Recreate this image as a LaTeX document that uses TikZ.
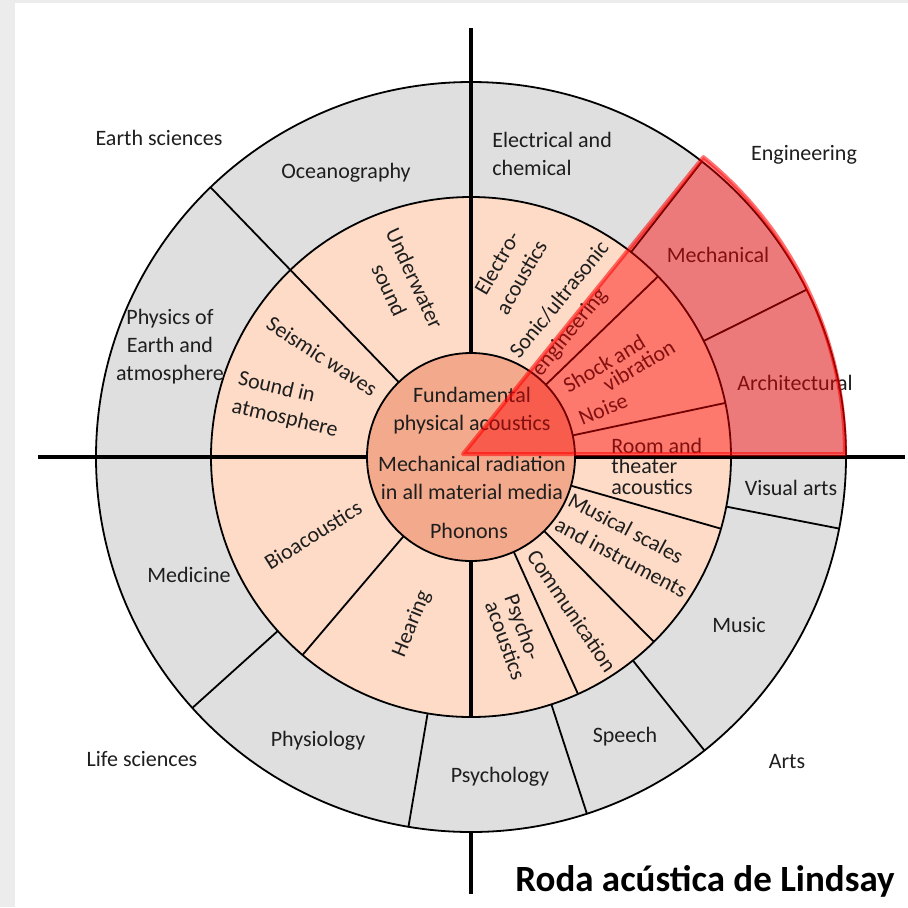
\documentclass[tikz,border=0pt]{standalone}
\usepackage{fontspec}
\setmainfont{Carlito}
\definecolor{bgframe}{HTML}{ECECEC}
\definecolor{ringgray}{HTML}{DFDFDF}
\definecolor{ringpeach}{HTML}{FDDBC7}
\definecolor{innercol}{HTML}{F3A98B}
\definecolor{txt}{HTML}{1E1E1E}
\begin{document}
\begin{tikzpicture}[x=0.5pt,y=0.5pt,
  lbl/.style={font=\fontsize{11}{14}\selectfont, text=txt, inner sep=0pt, align=center},
  divider/.style={draw=black, line width=0.9pt},
  axisline/.style={draw=black, line width=2pt},
  overlay sector/.style={fill=red, fill opacity=0.45, draw=red, draw opacity=0.55, line width=2pt, line join=round}
]
\useasboundingbox (-471,-450) rectangle (437,457);
\fill[bgframe] (-471,-450) rectangle (437,457);
\fill[white] (-456,-450) rectangle (437,454);

% rings
\fill[ringgray] (0,0) circle (375);
\draw[divider] (0,0) circle (375);
\fill[ringpeach] (0,0) circle (260);
\draw[divider] (0,0) circle (260);

% outer ring dividers
\foreach \a in {222,260.4,288,308.5,349,26.5,52}
  \draw[divider] (\a:260) -- (\a:375);
\draw[divider] (134:104) -- (134:375);
% middle ring dividers
\foreach \a in {229.6,294.3,314.7,344,12,44}
  \draw[divider] (\a:104) -- (\a:260);

% inner disk
\fill[innercol] (0,0) circle (104);
\draw[divider] (0,0) circle (104);

% axes
\draw[axisline] (-433,0) -- (-104,0);
\draw[axisline] (104,0) -- (434,0);
\draw[axisline] (0,429) -- (0,104);
\draw[axisline] (0,-104) -- (0,-260);
\draw[axisline] (0,-375) -- (0,-437);

% outside labels
\node[lbl] (earth) at (-312,319) {Earth sciences};
\node[lbl] (engin) at (333,302) {Engineering};
\node[lbl] (life) at (-329,-302) {Life sciences};
\node[lbl] (arts) at (316,-305) {Arts};

% outer ring labels
\node[lbl] (ocean) at (-125,284) {Oceanography};
\node[lbl, align=left, anchor=west] (elec) at (21,303) {Electrical and\\chemical};
\node[lbl] (physearth) at (-301,110) {Physics of\\Earth and\\atmosphere};
\node[lbl] (medicine) at (-282,-118) {Medicine};
\node[lbl] (physiol) at (-153,-284) {Physiology};
\node[lbl] (psychol) at (29,-320) {Psychology};
\node[lbl] (speech) at (154,-280) {Speech};
\node[lbl] (music) at (268,-168) {Music};
\node[lbl] (visual) at (320,-31) {Visual arts};
\node[lbl] (mech) at (247,202) {Mechanical};
\node[lbl] (archi) at (324,74) {Architectural};

% middle ring labels
\node[lbl, rotate=-65] (underwater) at (-69,173) {Underwater\\sound};
\node[lbl, rotate=60] (electroac) at (38,187) {Electro-\\acoustics};
\node[lbl, rotate=51, align=left] (sonic) at (100,148) {Sonic/ultrasonic\\engineering};
\node[lbl, rotate=31, align=left] (shock) at (148,91) {Shock and\\[-4.5pt]\hspace*{17.5pt}vibration};
\node[lbl, rotate=22] (noise) at (132,48) {Noise};
\node[lbl, align=left, anchor=west, font=\fontsize{11}{10.25}\selectfont] (room) at (140,-9) {Room and\\theater\\acoustics};
\node[lbl, rotate=-28, align=left] (musical) at (157,-88) {Musical scales\\and instruments};
\node[lbl, rotate=-56] (commun) at (101,-154) {Communication};
\node[lbl, rotate=-70, align=left, font=\fontsize{11}{9}\selectfont] (psychoac) at (44.5,-180) {Psycho-\\acoustics};
\node[lbl, rotate=68] (hearing) at (-59,-167) {Hearing};
\node[lbl, rotate=32] (bioac) at (-158,-78) {Bioacoustics};
\node[lbl, rotate=-33] (seismic) at (-149,101) {Seismic waves};
\node[lbl, rotate=-13, align=left] (soundatm) at (-183,52) {Sound in\\atmosphere};

% inner circle labels
\node[lbl] (fundam) at (1,46) {Fundamental\\physical acoustics};
\node[lbl] (mechrad) at (1,-21) {Mechanical radiation\\in all material media};
\node[lbl] (phonons) at (-2,-74) {Phonons};

% highlighted engineering sector
\path[overlay sector] (-8,3) -- ++(0:382) arc[start angle=0, end angle=51, radius=382] -- cycle;

% title
\node[anchor=base west, inner sep=0pt, font=\fontsize{18.5}{22}\selectfont\bfseries, text=black] (title) at (44,-434) {Roda acústica de Lindsay};
\end{tikzpicture}
\end{document}
